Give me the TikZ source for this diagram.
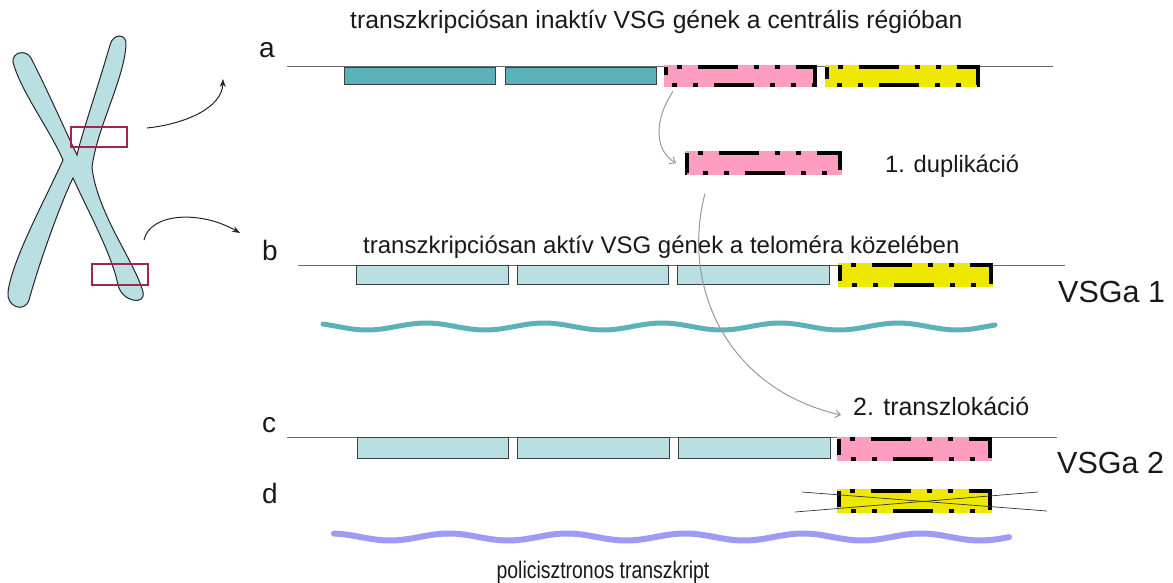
\documentclass[tikz,border=0pt]{standalone}
\usepackage{fontspec}
\usepackage{graphicx}
\setmainfont{Liberation Sans}
\usetikzlibrary{arrows.meta,calc}

\definecolor{tealbox}{HTML}{5BB1B9}
\definecolor{lightbox}{HTML}{B9DFE2}
\definecolor{pinkbox}{HTML}{FF9DC0}
\definecolor{yellowbox}{HTML}{EEE800}
\definecolor{chromo}{HTML}{B9DFE2}
\definecolor{marker}{HTML}{A0254F}
\definecolor{wavyteal}{HTML}{5DB2B8}
\definecolor{wavyblue}{HTML}{9C9CF5}
\definecolor{dnaline}{HTML}{6A6A6A}

\tikzset{
  gene/.style={draw=black!75, line width=0.9pt, inner sep=0pt, anchor=north west},
  vsg/.style={fill=#1, inner sep=0pt, anchor=north west},
  dashdot/.style={line width=4.5pt, draw=black, dash pattern=on 40pt off 16pt on 5pt off 16pt on 5pt off 16pt, dash phase=66pt},
  dna/.style={draw=dnaline, line width=0.9pt},
  txt/.style={inner sep=0pt, anchor=base west, text=black!90},
  hl/.style={draw=marker, line width=2.4pt, inner sep=0pt},
  blackarrow/.style={draw=black!85, line width=1pt, -{Stealth[length=8pt,width=6pt]}},
  grayarrow/.style={draw=black!40, line width=1pt, -{Straight Barb[length=5pt,width=8pt]}},
  xline/.style={draw=black!80, line width=0.7pt}
}

% dash-dotted frame drawn just inside a VSG box, clockwise from the top left corner
\newcommand\vsgframe[1]{\draw[dashdot]
  ($(#1.north west)+(2.2,2.2)$) -- ($(#1.north east)+(-2.2,2.2)$) --
  ($(#1.south east)+(-2.2,-2.2)$) -- ($(#1.south west)+(2.2,-2.2)$) -- cycle;}

\begin{document}
\begin{tikzpicture}[x=1pt,y=-1pt]
\useasboundingbox (0,0) rectangle (1173,583);
\fill[white] (0,0) rectangle (1173,583);

% ---------- chromosome ----------
\draw[fill=chromo, draw=black!85, line width=1pt]
  (13,62) .. controls (12,52) and (26,49) .. (31,58)
  .. controls (45,85) and (65,130) .. (77,155)
  .. controls (80,140) and (100,80) .. (110,45)
  .. controls (113,33) and (127,33) .. (126,45)
  .. controls (124,80) and (96,130) .. (92,168)
  .. controls (98,215) and (135,262) .. (143,292)
  .. controls (146,306) and (122,302) .. (118,285)
  .. controls (112,255) and (90,215) .. (73,178)
  .. controls (62,200) and (40,260) .. (29,300)
  .. controls (24,314) and (6,306) .. (8,292)
  .. controls (12,260) and (45,200) .. (63,160)
  .. controls (50,130) and (20,90) .. (13,62) -- cycle;
\node[hl, minimum width=56pt, minimum height=20pt] (r1) at (99,137) {};
\node[hl, minimum width=56pt, minimum height=21pt] (r2) at (120,274.5) {};

\coordinate (c1) at (147,128);
\coordinate (t1) at (223,79);
\draw[blackarrow] (c1) .. controls (185,124) and (222,108) .. (t1);
\coordinate (c2) at (144,240);
\coordinate (t2) at (240,233);
\draw[blackarrow] (c2) .. controls (150,213) and (200,210) .. (t2);

% ---------- row a ----------
\node[txt] (ta) at (350,29) {\fontsize{24.7}{28}\selectfont transzkripciósan inaktív VSG gének a centrális régióban};
\node[txt] (la) at (259,58) {\fontsize{28}{32}\selectfont a};
\coordinate (a0) at (287,66.5);
\coordinate (a1) at (1053,66.5);
\draw[dna] (a0) -- (a1);
\node[gene, fill=tealbox, minimum width=151pt, minimum height=17pt] (ga1) at (344,67) {};
\node[gene, fill=tealbox, minimum width=151pt, minimum height=17pt] (ga2) at (505,67) {};
\node[vsg=pinkbox, minimum width=153pt, minimum height=22pt] (pa) at (664,65) {};
\vsgframe{pa}
\node[vsg=yellowbox, minimum width=155pt, minimum height=22pt] (ya) at (825,65) {};
\vsgframe{ya}

% ---------- duplication ----------
\node[vsg=pinkbox, minimum width=157pt, minimum height=24pt] (dup) at (685,151) {};
\vsgframe{dup}
\node[txt] (tdup) at (885,172) {\fontsize{23.7}{28}\selectfont 1. duplikáció};
\draw[grayarrow] ($(pa.south west)+(9,4)$) .. controls (654,120) and (654,150) .. ($(dup.west)+(-9,0)$);

% ---------- row b ----------
\node[txt] (tb) at (363,253) {\fontsize{24}{28}\selectfont transzkripciósan aktív VSG gének a teloméra közelében};
\node[txt] (lb) at (262,260) {\fontsize{28}{32}\selectfont b};
\coordinate (b0) at (298,265);
\coordinate (b1) at (1065,265);
\draw[dna] (b0) -- (b1);
\node[gene, fill=lightbox, minimum width=152pt, minimum height=19pt] (gb1) at (356,265) {};
\node[gene, fill=lightbox, minimum width=151pt, minimum height=19pt] (gb2) at (517,265) {};
\node[gene, fill=lightbox, minimum width=152pt, minimum height=19pt] (gb3) at (677,265) {};
\node[vsg=yellowbox, minimum width=155pt, minimum height=24pt] (yb) at (838,263) {};
\vsgframe{yb}
\node[txt] (v1) at (1058,302) {\fontsize{30.5}{34}\selectfont VSGa 1};
\draw[wavyteal, line width=5pt, line cap=round]
  plot[domain=323:995, samples=160, smooth] (\x, {326.5+3.5*cos(3.05*(\x-367))});

% ---------- translocation ----------
\node[txt] (ttr) at (853,415) {\fontsize{25}{28}\selectfont 2. transzlokáció};
\draw[grayarrow] ($(dup.south west)+(20,18)$) .. controls (680,290) and (730,390) .. ($(ttr.base west)+(-12,0)$);

% ---------- row c ----------
\node[txt] (lc) at (262,432) {\fontsize{28}{32}\selectfont c};
\coordinate (c0) at (287,437);
\coordinate (c1e) at (1057,437);
\draw[dna] (c0) -- (c1e);
\node[gene, fill=lightbox, minimum width=151pt, minimum height=21pt] (gc1) at (357,437) {};
\node[gene, fill=lightbox, minimum width=152pt, minimum height=21pt] (gc2) at (517,437) {};
\node[gene, fill=lightbox, minimum width=152pt, minimum height=21pt] (gc3) at (678,437) {};
\node[vsg=pinkbox, minimum width=155pt, minimum height=24pt] (pc) at (837,437) {};
\vsgframe{pc}
\node[txt] (v2) at (1057,473) {\fontsize{30.5}{34}\selectfont VSGa 2};

% ---------- row d ----------
\node[txt] (ld) at (262,503) {\fontsize{28}{32}\selectfont d};
\node[vsg=yellowbox, minimum width=155pt, minimum height=24pt] (yd) at (837,489) {};
\vsgframe{yd}
\coordinate (x1a) at (802,492);
\coordinate (x1b) at (1047,511);
\coordinate (x2a) at (795,512);
\coordinate (x2b) at (1038,492);
\draw[xline] (x1a) -- (x1b);
\draw[xline] (x2a) -- (x2b);
\draw[wavyblue, line width=6pt, line cap=round]
  plot[domain=334:1009, samples=160, smooth] (\x, {537+3.5*cos(3.05*(\x-390))});
\node[txt, anchor=base] (tp) at (603,578) {\fontsize{24}{28}\selectfont\scalebox{0.81}[1]{policisztronos transzkript}};

\end{tikzpicture}
\end{document}
